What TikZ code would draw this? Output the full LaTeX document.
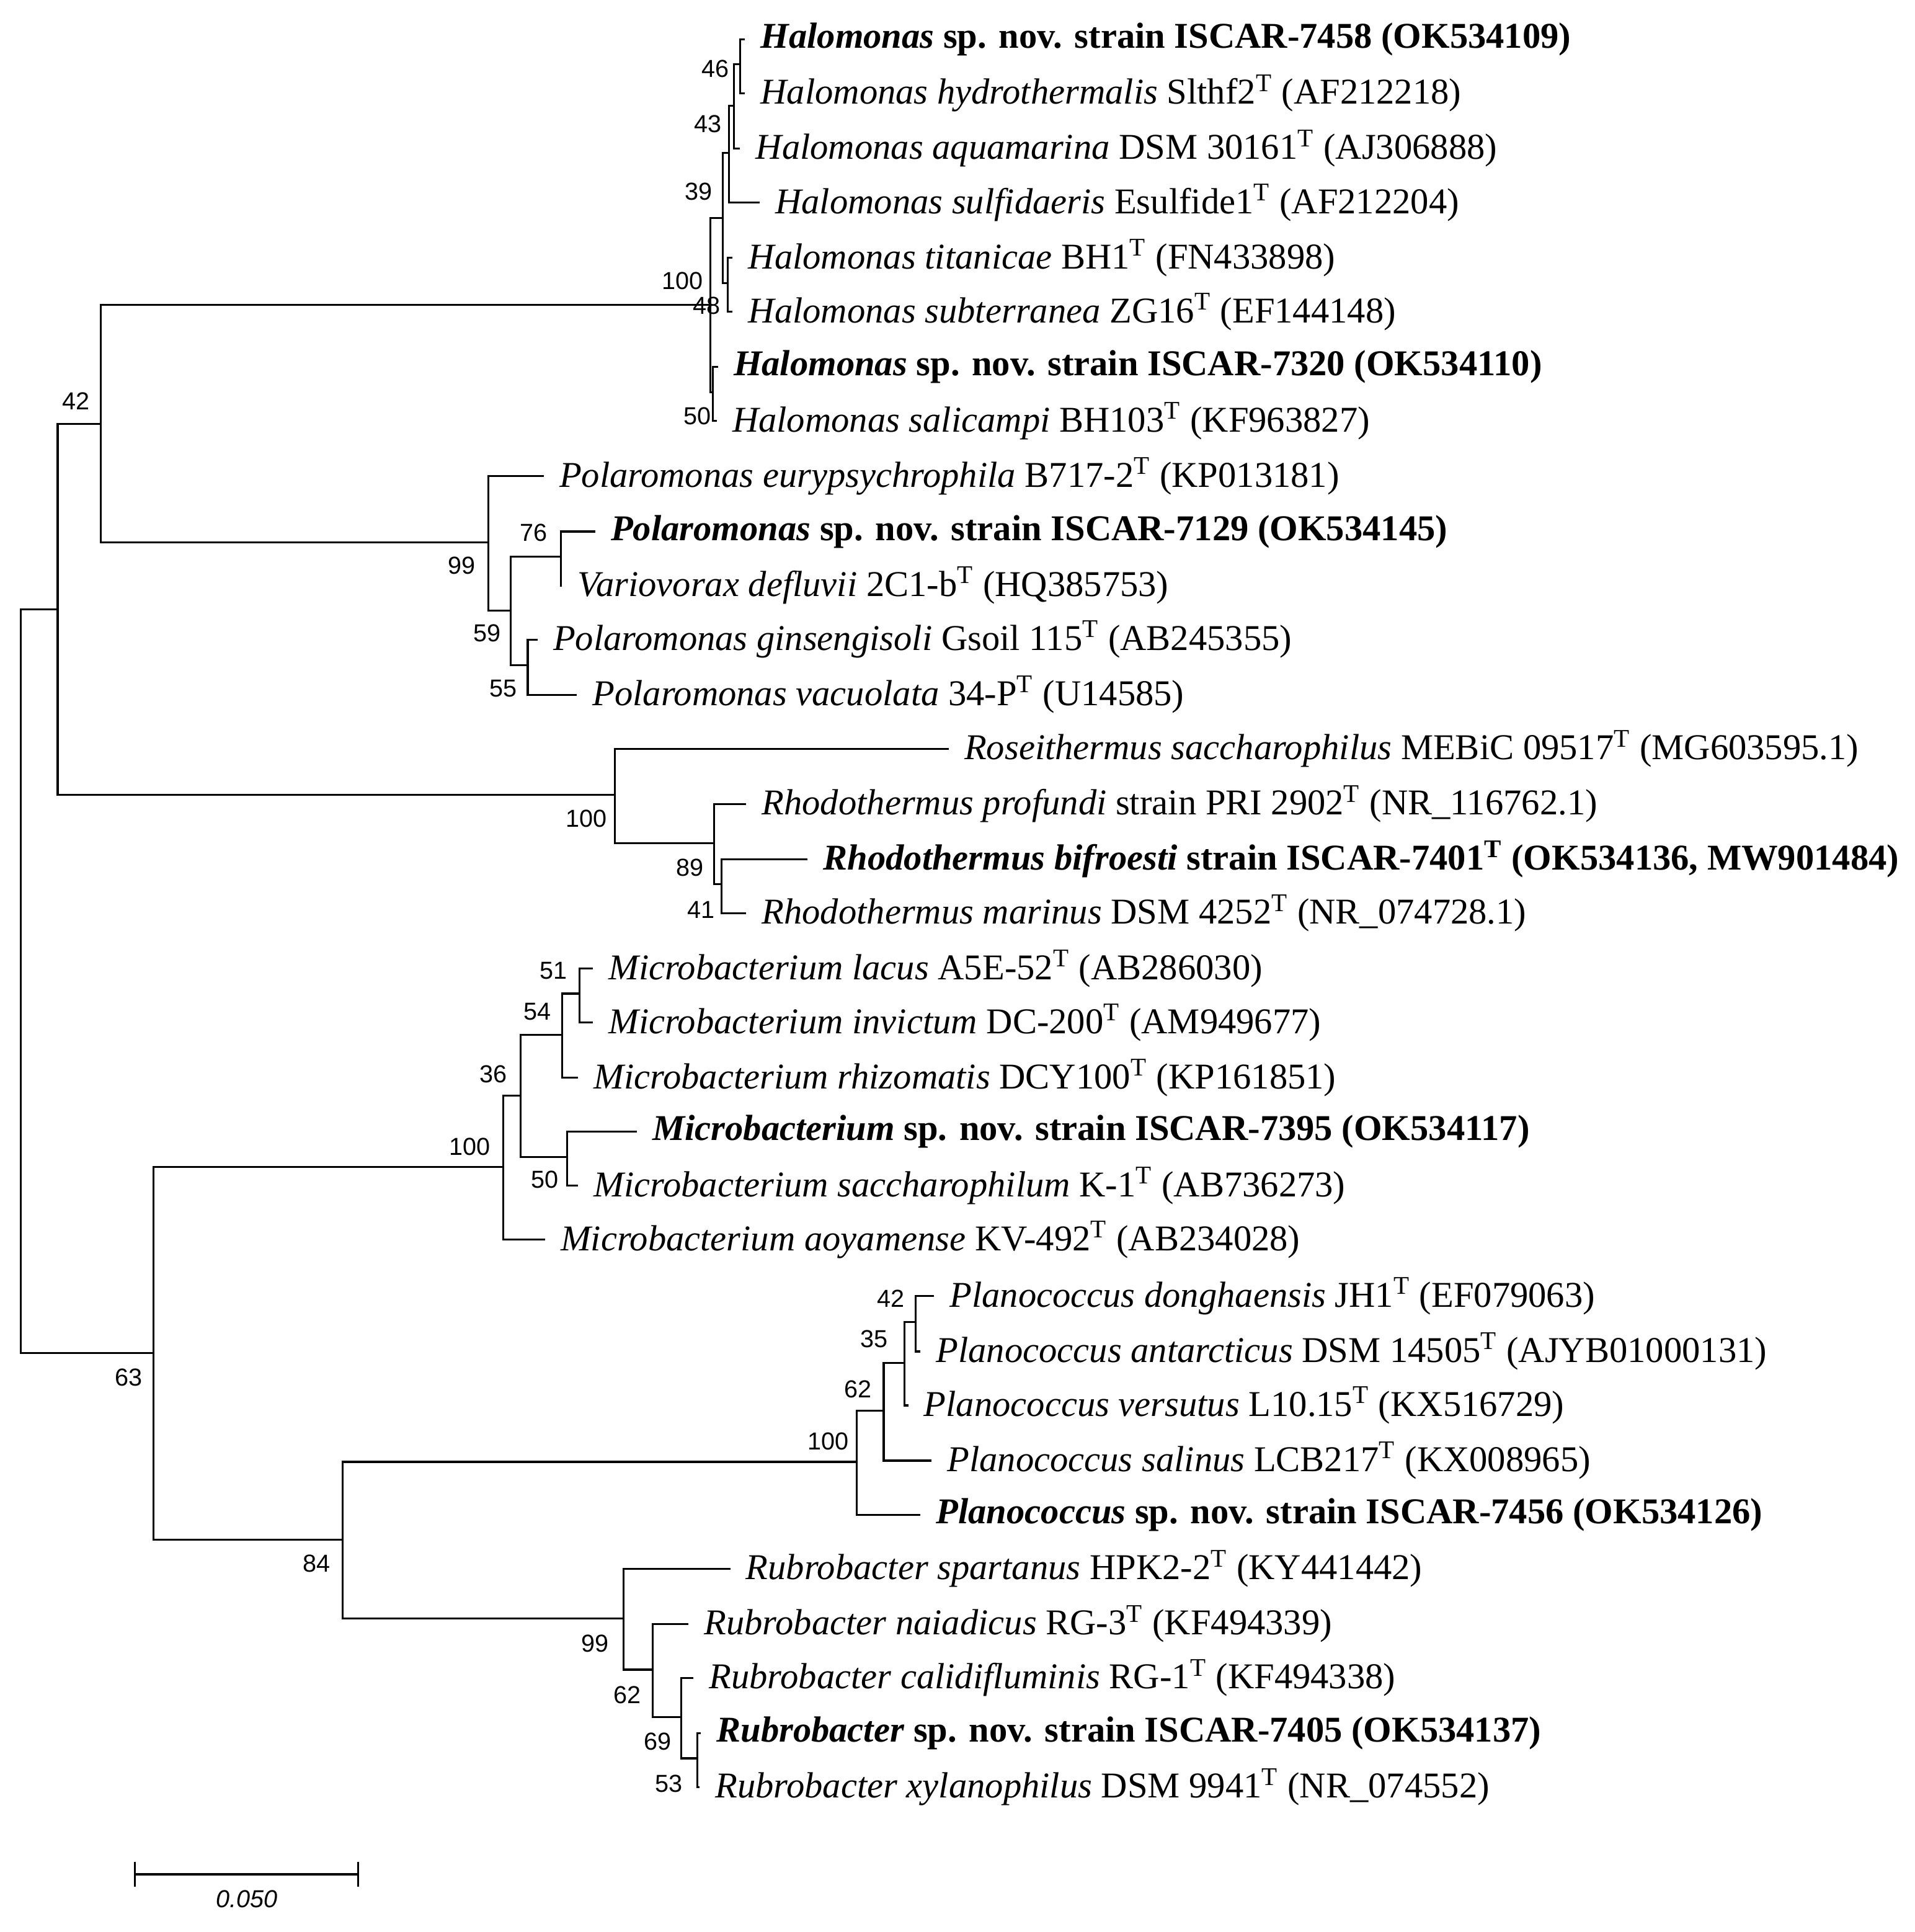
\documentclass[tikz,border=0pt]{standalone}
\usepackage{fontspec}
\setmainfont{Liberation Serif}
\newfontfamily\lsans{Liberation Sans}
\newcommand{\sT}{\textsuperscript{T}}
\begin{document}
\begin{tikzpicture}[x=0.5pt,y=-0.5pt,line width=0.8pt,
 leaf/.style={anchor=west,inner xsep=6pt,inner ysep=0pt,yshift=-1.5pt,font=\fontsize{14.8}{16}\selectfont},
 bs/.style={font=\lsans\fontsize{10}{12}\selectfont,inner sep=0pt}]
\useasboundingbox (0,0) rectangle (1560,1574);
% leaves
\node[leaf] (l1) at (607,29) {\textbf{\textit{Halomonas} sp. nov. strain ISCAR-7458 (OK534109)}};
\node[leaf] (l2) at (607,73) {\textit{Halomonas hydrothermalis} Slthf2\sT{} (AF212218)};
\node[leaf] (l3) at (603,118) {\textit{Halomonas aquamarina} DSM 30161\sT{} (AJ306888)};
\node[leaf] (l4) at (619,162) {\textit{Halomonas sulfidaeris} Esulfide1\sT{} (AF212204)};
\node[leaf] (l5) at (597,207) {\textit{Halomonas titanicae} BH1\sT{} (FN433898)};
\node[leaf] (l6) at (597,251) {\textit{Halomonas subterranea} ZG16\sT{} (EF144148)};
\node[leaf] (l7) at (585,296) {\textbf{\textit{Halomonas} sp. nov. strain ISCAR-7320 (OK534110)}};
\node[leaf] (l8) at (584,340) {\textit{Halomonas salicampi} BH103\sT{} (KF963827)};
\node[leaf] (l9) at (443,385) {\textit{Polaromonas eurypsychrophila} B717-2\sT{} (KP013181)};
\node[leaf] (l10) at (485,430) {\textbf{\textit{Polaromonas} sp. nov. strain ISCAR-7129 (OK534145)}};
\node[leaf] (l11) at (458,474) {\textit{Variovorax defluvii} 2C1-b\sT{} (HQ385753)};
\node[leaf] (l12) at (438,518) {\textit{Polaromonas ginsengisoli} Gsoil 115\sT{} (AB245355)};
\node[leaf] (l13) at (470,563) {\textit{Polaromonas vacuolata} 34-P\sT{} (U14585)};
\node[leaf] (l14) at (773,607) {\textit{Roseithermus saccharophilus} MEBiC 09517\sT{} (MG603595.1)};
\node[leaf] (l15) at (608,652) {\textit{Rhodothermus profundi} strain PRI 2902\sT{} (NR\_116762.1)};
\node[leaf] (l16) at (658,697) {\textbf{\textit{Rhodothermus bifroesti} strain ISCAR-7401\sT{} (OK534136, MW901484)}};
\node[leaf] (l17) at (608,741) {\textit{Rhodothermus marinus} DSM 4252\sT{} (NR\_074728.1)};
\node[leaf] (l18) at (483,786) {\textit{Microbacterium lacus} A5E-52\sT{} (AB286030)};
\node[leaf] (l19) at (483,830) {\textit{Microbacterium invictum} DC-200\sT{} (AM949677)};
\node[leaf] (l20) at (471,875) {\textit{Microbacterium rhizomatis} DCY100\sT{} (KP161851)};
\node[leaf] (l21) at (519,919) {\textbf{\textit{Microbacterium} sp. nov. strain ISCAR-7395 (OK534117)}};
\node[leaf] (l22) at (471,963) {\textit{Microbacterium saccharophilum} K-1\sT{} (AB736273)};
\node[leaf] (l23) at (444,1007) {\textit{Microbacterium aoyamense} KV-492\sT{} (AB234028)};
\node[leaf] (l24) at (761,1053) {\textit{Planococcus donghaensis} JH1\sT{} (EF079063)};
\node[leaf] (l25) at (750,1098) {\textit{Planococcus antarcticus} DSM 14505\sT{} (AJYB01000131)};
\node[leaf] (l26) at (740,1142) {\textit{Planococcus versutus} L10.15\sT{} (KX516729)};
\node[leaf] (l27) at (759,1187) {\textit{Planococcus salinus} LCB217\sT{} (KX008965)};
\node[leaf] (l28) at (750,1231) {\textbf{\textit{Planococcus} sp. nov. strain ISCAR-7456 (OK534126)}};
\node[leaf] (l29) at (595,1275) {\textit{Rubrobacter spartanus} HPK2-2\sT{} (KY441442)};
\node[leaf] (l30) at (561,1320) {\textit{Rubrobacter naiadicus} RG-3\sT{} (KF494339)};
\node[leaf] (l31) at (565,1364) {\textit{Rubrobacter calidifluminis} RG-1\sT{} (KF494338)};
\node[leaf] (l32) at (571,1409) {\textbf{\textit{Rubrobacter} sp. nov. strain ISCAR-7405 (OK534137)}};
\node[leaf] (l33) at (570,1453) {\textit{Rubrobacter xylanophilus} DSM 9941\sT{} (NR\_074552)};
% internal nodes
\coordinate (A) at (603,52.5);
\coordinate (B) at (598,86);
\coordinate (C) at (594,124.5);
\coordinate (D) at (593,230.5);
\coordinate (E) at (589,177.5);
\coordinate (F) at (581,319.5);
\coordinate (G) at (579,248.5);
\coordinate (H) at (457,453.5);
\coordinate (I) at (430,542);
\coordinate (J) at (416,497.5);
\coordinate (K) at (398,442);
\coordinate (L) at (82,345.25);
\coordinate (M) at (588,720.5);
\coordinate (N) at (582,687);
\coordinate (O) at (501,647.5);
\coordinate (P) at (47,496.4);
\coordinate (Q) at (472,809.5);
\coordinate (R) at (458,843);
\coordinate (S) at (462,942.5);
\coordinate (T) at (424,892.75);
\coordinate (U) at (410,950.5);
\coordinate (V) at (746,1077);
\coordinate (W) at (737,1110.25);
\coordinate (X) at (720,1149.4);
\coordinate (Y) at (698,1191);
\coordinate (Z) at (568,1432.5);
\coordinate (AA) at (555,1399);
\coordinate (AB) at (532,1360.25);
\coordinate (AC) at (508,1318.4);
\coordinate (AD) at (279,1254.5);
\coordinate (AE) at (125,1102.5);
\coordinate (root) at (17,799.5);
% edges
\draw (l1.west) -| (A); \draw (l2.west) -| (A);
\draw (A) -| (B); \draw (l3.west) -| (B);
\draw (B) -| (C); \draw (l4.west) -| (C);
\draw (l5.west) -| (D); \draw (l6.west) -| (D);
\draw (C) -| (E); \draw (D) -| (E);
\draw (l7.west) -| (F); \draw (l8.west) -| (F);
\draw (E) -| (G); \draw (F) -| (G);
\draw (l10.west) -| (H); \draw (l11.west) -| (H);
\draw (l12.west) -| (I); \draw (l13.west) -| (I);
\draw (H) -| (J); \draw (I) -| (J);
\draw (l9.west) -| (K); \draw (J) -| (K);
\draw (G) -| (L); \draw (K) -| (L);
\draw (l16.west) -| (M); \draw (l17.west) -| (M);
\draw (l15.west) -| (N); \draw (M) -| (N);
\draw (l14.west) -| (O); \draw (N) -| (O);
\draw (L) -| (P); \draw (O) -| (P);
\draw (l18.west) -| (Q); \draw (l19.west) -| (Q);
\draw (Q) -| (R); \draw (l20.west) -| (R);
\draw (l21.west) -| (S); \draw (l22.west) -| (S);
\draw (R) -| (T); \draw (S) -| (T);
\draw (T) -| (U); \draw (l23.west) -| (U);
\draw (l24.west) -| (V); \draw (l25.west) -| (V);
\draw (V) -| (W); \draw (l26.west) -| (W);
\draw (W) -| (X); \draw (l27.west) -| (X);
\draw (X) -| (Y); \draw (l28.west) -| (Y);
\draw (l32.west) -| (Z); \draw (l33.west) -| (Z);
\draw (l31.west) -| (AA); \draw (Z) -| (AA);
\draw (l30.west) -| (AB); \draw (AA) -| (AB);
\draw (l29.west) -| (AC); \draw (AB) -| (AC);
\draw (Y) -| (AD); \draw (AC) -| (AD);
\draw (U) -| (AE); \draw (AD) -| (AE);
\draw (P) -| (root); \draw (AE) -| (root);
% bootstrap
\node[bs] (b1) at (583,56) {46};
\node[bs] (b2) at (577,101) {43};
\node[bs] (b3) at (569,156) {39};
\node[bs] (b4) at (556,229) {100};
\node[bs] (b5) at (576,249) {48};
\node[bs] (b6) at (568,339) {50};
\node[bs] (b7) at (62,327) {42};
\node[bs] (b8) at (435,434) {76};
\node[bs] (b9) at (376,461) {99};
\node[bs] (b10) at (397,516) {59};
\node[bs] (b11) at (410,561) {55};
\node[bs] (b12) at (478,667) {100};
\node[bs] (b13) at (562,707) {89};
\node[bs] (b14) at (571,741) {41};
\node[bs] (b15) at (451,791) {51};
\node[bs] (b16) at (438,824) {54};
\node[bs] (b17) at (402,875) {36};
\node[bs] (b18) at (383,934) {100};
\node[bs] (b19) at (444,961) {50};
\node[bs] (b20) at (726,1058) {42};
\node[bs] (b21) at (712,1091) {35};
\node[bs] (b22) at (699,1132) {62};
\node[bs] (b23) at (675,1174) {100};
\node[bs] (b24) at (105,1122) {63};
\node[bs] (b25) at (258,1274) {84};
\node[bs] (b26) at (485,1339) {99};
\node[bs] (b27) at (511,1381) {62};
\node[bs] (b28) at (536,1419) {69};
\node[bs] (b29) at (545,1453) {53};
% scale bar
\coordinate (s1) at (110,1527); \coordinate (s2) at (292,1527);
\draw (s1) -- (s2);
\draw ([yshift=5pt]s1) -- ([yshift=-5pt]s1);
\draw ([yshift=5pt]s2) -- ([yshift=-5pt]s2);
\node[bs,font=\lsans\itshape\fontsize{10}{12}\selectfont] (sl) at (201,1547) {0.050};
\end{tikzpicture}
\end{document}
